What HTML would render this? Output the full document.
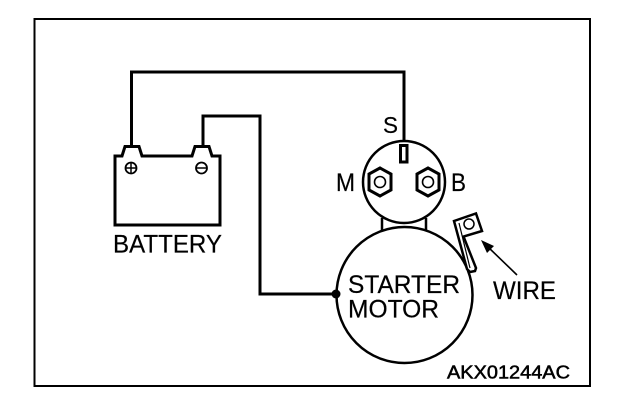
<!DOCTYPE html>
<html><head><meta charset="utf-8"><style>
html,body{margin:0;padding:0;background:#fff;width:624px;height:410px;overflow:hidden}
svg{display:block}
text{font-family:"Liberation Sans",sans-serif;fill:#000;stroke:#000;stroke-width:.2}
</style></head><body>
<svg width="624" height="410" viewBox="0 0 624 410" xmlns="http://www.w3.org/2000/svg">
<rect width="624" height="410" fill="#fff"/>
<path d="M34.500 386V19H590V386Z" fill="none" stroke="#000" stroke-width="2"/>
<rect x="34" y="18" width="557" height="2"/>
<rect x="34" y="385" width="557" height="2"/>
<g fill="none" stroke="#000">
<path d="M131.500 146V72H404V140" stroke-width="3"/>
<path d="M203 146V116H260V294H336" stroke-width="3"/>
<path d="M115 156H122L125 146.500H139L142 156H192L195 146.500H209L212 156H220V225H115Z" stroke-width="3"/>
<circle cx="131" cy="168" r="5.500" stroke-width="1.800"/>
<path d="M125.500 168H136.500M131 162.500V173.500" stroke-width="1.500"/>
<circle cx="201.500" cy="168" r="5.500" stroke-width="1.800"/>
<path d="M196 168H207" stroke-width="1.500"/>
<circle cx="404" cy="182" r="41" stroke-width="2.500"/>
<rect x="400.500" y="145.500" width="6.500" height="16.500" stroke-width="3" fill="#fff"/>
<path d="M380 168L391 174V190L380 196L369 190V174Z" stroke-width="3"/>
<circle cx="380" cy="182" r="5.500" stroke-width="1.600"/>
<path d="M428 168L439 174V190L428 196L417 190V174Z" stroke-width="3"/>
<circle cx="428" cy="182" r="5.500" stroke-width="1.600"/>
<path d="M382 218V230M426 218V230" stroke-width="2.500"/>
<circle cx="404.500" cy="295" r="68" stroke-width="2.500" fill="#fff"/>
<path d="M454 221L476 213.500L482 231L463.500 236.500L476 268L475 271L470 272L467 269Z" stroke-width="2.500" fill="#fff"/>
<path d="M459 223L470 268" stroke-width="1.200"/>
<circle cx="469" cy="224" r="5" stroke-width="1.500"/>
<path d="M517 275L487 246" stroke-width="1.600"/>
</g>
<path d="M481 240L494 246L487 253Z"/>
<circle cx="336" cy="294" r="4.500"/>
<text x="113" y="252.500" font-size="25" textLength="109" lengthAdjust="spacingAndGlyphs">BATTERY</text>
<text x="383" y="133" font-size="23" textLength="15" lengthAdjust="spacingAndGlyphs">S</text>
<text x="336" y="191" font-size="25" textLength="19" lengthAdjust="spacingAndGlyphs">M</text>
<text x="451" y="191" font-size="25" textLength="15" lengthAdjust="spacingAndGlyphs">B</text>
<text x="348" y="293" font-size="25" textLength="112" lengthAdjust="spacingAndGlyphs">STARTER</text>
<text x="348" y="317.500" font-size="25" textLength="91" lengthAdjust="spacingAndGlyphs">MOTOR</text>
<text x="493" y="299" font-size="25" textLength="63" lengthAdjust="spacingAndGlyphs">WIRE</text>
<text x="447" y="378.500" font-size="18" stroke-width="0.500" style="stroke-width:.5" textLength="123" lengthAdjust="spacingAndGlyphs">AKX01244AC</text>
</svg>
</body></html>
